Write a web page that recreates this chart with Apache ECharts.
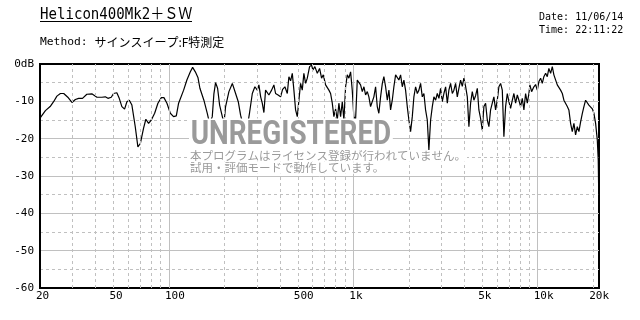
<!DOCTYPE html>
<html>
<head>
<meta charset="utf-8">
<script src="https://cdn.jsdelivr.net/npm/echarts@6/dist/echarts.min.js"></script>
<style>html,body{margin:0;padding:0;background:#fff;}#c{width:640px;height:320px;}</style>
</head>
<body>
<div id="c"></div>
<script>
const titleText = 'Helicon400Mk2＋ＳＷ';
const methodLabel = 'Method: ';
const methodText = 'サインスイープ:F特測定';
const dateText = 'Date: 11/06/14';
const timeText = 'Time: 22:11:22';
const watermarkText = 'UNREGISTERED';
const noticeLine1 = '本プログラムはライセンス登録が行われていません。';
const noticeLine2 = '試用・評価モードで動作しています。';

const freqHz = [
  20, 21.4, 22.7, 23.7, 24.7, 25.8, 26.9, 28.3, 29.8, 31.1, 32.4, 34.0, 35.9, 38.2, 40.7, 43.3, 45.2, 46.7, 48.7, 50.1,
  52.2, 53.8, 55.6, 57.5, 59.2, 61.0, 63.0, 65.7, 67.9, 70.0, 72.9, 75.0, 77.6, 80.3, 83.7, 87.2, 91.0, 94.0, 97.6, 101.8,
  106, 109.7, 112.9, 120.2, 125.2, 130.7, 134.5, 139.1, 143.7, 147.3, 154.8, 161.5, 166.3, 171.9, 175.4, 179.1, 183.7, 188.4, 194.9, 198.8,
  203, 211.6, 220.8, 230, 237.8, 244.8, 254.2, 263.9, 273.9, 283.4, 292.7, 301.6, 307.7, 314.5, 320.9, 327.5, 334.4, 348.6, 360.6, 371,
  378.9, 390.9, 403.4, 413.6, 425.7, 438.6, 447.5, 457.1, 466.9, 476.3, 486.5, 496.9, 507, 517.8, 528.8, 539.5, 551.2, 563, 579.4, 594.1,
  603.8, 619, 637.9, 656.4, 673.1, 687.5, 707.6, 737.4, 753.2, 769.3, 784.9, 801.7, 818.9, 835.4, 853.3, 871.6, 889.2, 908.3, 927.9, 946.5,
  966.9, 987, 1007, 1029, 1051, 1072, 1095, 1119, 1142, 1166, 1191, 1215, 1241, 1268, 1293, 1321, 1349, 1376, 1406, 1437,
  1465, 1497, 1529, 1560, 1593, 1627, 1660, 1696, 1732, 1767, 1805, 1844, 1881, 1921, 1962, 2002, 2045, 2089, 2131, 2177,
  2224, 2269, 2317, 2367, 2415, 2466, 2519, 2570, 2626, 2682, 2736, 2795, 2855, 2913, 2975, 3038, 3100, 3167, 3235, 3299,
  3370, 3443, 3512, 3587, 3664, 3738, 3818, 3900, 3979, 4064, 4152, 4236, 4326, 4419, 4508, 4605, 4704, 4799, 4901, 5007,
  5108, 5218, 5330, 5437, 5553, 5672, 5787, 5911, 6038, 6160, 6292, 6427, 6556, 6698, 6841, 6980, 7129, 7285, 7430, 7589,
  7753, 7907, 8076, 8250, 8418, 8598, 8782, 8960, 9072, 9267, 9537, 9741, 9950, 10150, 10370, 10590, 10800, 11040, 11270, 11500,
  11750, 12000, 12240, 12510, 12770, 13030, 13310, 13600, 13870, 14170, 14470, 14760, 15080, 15400, 15720, 16050, 16400, 16730, 17090, 17460,
  17810, 18190, 18580, 18950, 19360, 19780, 20180, 20610, 21050, 21300, 21450
];
const levelDb = [
  -14.5, -12.5, -11.4, -10.1, -8.6, -7.9, -7.9, -8.9, -10.3, -9.5, -9.2, -9.2, -8.1, -8.0, -8.9, -8.9, -8.8, -9.2, -8.9, -7.9,
  -7.7, -9.2, -11.4, -12.1, -10.1, -9.7, -11.0, -16.8, -22.2, -21.3, -17.2, -14.8, -15.9, -15.0, -13.2, -10.5, -9.0, -9.0, -10.5, -13.2,
  -14.1, -13.9, -10.5, -7.0, -4.3, -2.1, -0.9, -2.1, -3.6, -6.5, -9.7, -13.2, -16.0, -14.1, -8.0, -5.0, -6.5, -11.0, -14.1, -16.0,
  -11.4, -7.4, -5.2, -7.9, -10.1, -13.7, -17.0, -18.0, -13.0, -7.9, -6.1, -7.0, -5.6, -8.8, -10.5, -13.0, -7.0, -8.3, -7.0, -5.6,
  -7.9, -8.3, -8.8, -6.8, -6.1, -7.9, -3.4, -4.5, -2.5, -7.0, -12.3, -14.1, -9.7, -5.2, -7.0, -2.5, -5.2, -3.8, -0.7, -0.3,
  -1.6, -0.7, -2.5, -1.2, -3.8, -2.9, -5.6, -7.0, -7.9, -10.5, -14.1, -12.0, -15.0, -10.5, -14.1, -10.1, -15.0, -6.1, -2.9, -3.8,
  -2.1, -7.0, -14.1, -15.0, -4.3, -3.8, -5.6, -7.4, -6.1, -8.3, -7.4, -8.8, -11.4, -11.9, -8.8, -6.1, -11.4, -13.2, -8.8, -5.2,
  -3.4, -6.1, -9.7, -7.0, -12.3, -9.7, -6.1, -2.9, -2.5, -4.3, -2.9, -6.1, -4.3, -7.0, -11.4, -15.0, -18.1, -14.1, -8.8, -6.1,
  -7.9, -7.0, -5.2, -8.8, -7.9, -12.3, -15.0, -23.0, -15.0, -11.4, -8.8, -9.7, -7.9, -9.2, -6.5, -10.1, -7.9, -6.1, -10.5, -7.0,
  -5.2, -7.9, -7.0, -5.2, -8.8, -6.5, -4.3, -6.0, -3.8, -6.0, -8.8, -16.8, -10.5, -7.4, -9.7, -8.5, -6.5, -12.3, -14.6, -17.7,
  -11.4, -10.5, -15.0, -16.8, -12.3, -10.5, -8.8, -12.3, -9.7, -6.1, -5.2, -7.0, -19.5, -11.4, -7.9, -10.1, -11.9, -9.7, -7.9, -10.5,
  -8.3, -9.7, -11.4, -9.2, -12.3, -7.9, -10.5, -7.9, -5.6, -7.4, -6.1, -5.5, -7.0, -4.7, -3.8, -5.2, -3.4, -2.5, -3.4, -1.2,
  -2.5, -0.7, -2.9, -3.4, -5.6, -5.2, -7.0, -7.9, -9.7, -10.1, -11.4, -12.3, -15.9, -18.1, -15.9, -19.0, -16.8, -18.1, -15.5, -13.2,
  -11.4, -9.7, -10.1, -11.0, -11.4, -12.0, -13.2, -15.9, -20.4, -25.7, -36.5
];

const xTickValues = [20, 50, 100, 500, 1000, 5000, 10000, 20000];
const xTickLabels = ['20', '50', '100', '500', '1k', '5k', '10k', '20k'];
const yTickValues = [0, -10, -20, -30, -40, -50, -60];
const yTickLabels = ['0dB', '-10', '-20', '-30', '-40', '-50', '-60'];
const xMajorGrid = [100, 1000, 10000];
const xMinorGrid = [30, 40, 50, 60, 70, 80, 90, 200, 300, 400, 500, 600, 700, 800, 900,
  2000, 3000, 4000, 5000, 6000, 7000, 8000, 9000, 20000];

function lookup(values, labels, v) {
  for (let i = 0; i < values.length; i++) {
    const ref = values[i];
    if (Math.abs(v - ref) <= Math.max(1e-6, Math.abs(ref) * 1e-6)) return labels[i];
  }
  return '';
}

const gridColor = '#c0c0c0';
const monoFont = '"DejaVu Sans Mono", "Noto Sans CJK JP", monospace';

const chart = echarts.init(document.getElementById('c'), null, {renderer: 'canvas'});
chart.setOption({
  animation: false,
  backgroundColor: '#fff',
  grid: {left: 40, top: 64, right: 41, bottom: 32, show: true, borderColor: '#000', borderWidth: 2, backgroundColor: 'transparent'},
  xAxis: {
    type: 'log', logBase: 10, min: 20, max: 21500,
    axisLine: {show: true, onZero: false, lineStyle: {color: '#000', width: 2}},
    axisTick: {show: false},
    splitLine: {show: false},
    axisLabel: {
      customValues: xTickValues,
      formatter: v => lookup(xTickValues, xTickLabels, v),
      color: '#000', fontFamily: monoFont, fontSize: 11,
      align: 'left', margin: 3, padding: [0, 0, 0, -4]
    }
  },
  yAxis: {
    type: 'value', min: -60, max: 0, interval: 10,
    axisLine: {show: true, onZero: false, lineStyle: {color: '#000', width: 2}},
    axisTick: {show: false},
    axisLabel: {
      formatter: v => lookup(yTickValues, yTickLabels, v),
      color: '#000', fontFamily: monoFont, fontSize: 11, margin: 6
    },
    splitLine: {show: true, showMinLine: false, showMaxLine: false, lineStyle: {color: gridColor, width: 1}},
    minorTick: {show: false, splitNumber: 2},
    minorSplitLine: {show: true, lineStyle: {color: gridColor, width: 1, type: [3, 3]}}
  },
  series: [
    {
      type: 'line', data: [], z: 1, silent: true,
      markLine: {
        silent: true, symbol: 'none', animation: false, label: {show: false},
        emphasis: {disabled: true},
        data: xMinorGrid.map(v => ({xAxis: v, lineStyle: {type: [3, 3], color: gridColor, width: 1}}))
          .concat(xMajorGrid.map(v => ({xAxis: v, lineStyle: {type: 'solid', color: gridColor, width: 1}})))
      }
    },
    {
      type: 'line', z: 3, silent: true,
      data: freqHz.map((f, i) => [f, levelDb[i]]),
      showSymbol: false, symbol: 'none',
      lineStyle: {color: '#000', width: 1.2}
    }
  ],
  graphic: [
    {type: 'text', x: 40, y: 14.5, scaleX: 0.88, z: 100,
     style: {text: titleText, fontFamily: monoFont, fontSize: 16, fill: '#000', verticalAlign: 'middle', align: 'left'}},
    {type: 'line', z: 100, shape: {x1: 40, y1: 21.5, x2: 192, y2: 21.5}, style: {stroke: '#000', lineWidth: 1}},
    {type: 'text', x: 40, y: 42, z: 100,
     style: {text: '{m|' + methodLabel + '}{j|' + methodText + '}', verticalAlign: 'middle', align: 'left', fill: '#000',
       rich: {m: {fontFamily: monoFont, fontSize: 11.3, fill: '#000'}, j: {fontFamily: '"Noto Sans CJK JP"', fontSize: 12, fill: '#000'}}}},
    {type: 'text', x: 539, y: 16.7, scaleX: 0.91, z: 100,
     style: {text: dateText, fontFamily: monoFont, fontSize: 11, fill: '#000', verticalAlign: 'middle', align: 'left'}},
    {type: 'text', x: 539, y: 29.7, scaleX: 0.91, z: 100,
     style: {text: timeText, fontFamily: monoFont, fontSize: 11, fill: '#000', verticalAlign: 'middle', align: 'left'}},
    {type: 'text', x: 189, y: 135.5, scaleX: 0.82, z: 100,
     style: {text: watermarkText, fontFamily: 'Roboto', fontWeight: 'bold', fontSize: 34, fill: '#9a9a9a',
       backgroundColor: '#fff', padding: [0, 2, 0, 2], verticalAlign: 'middle', align: 'left'}},
    {type: 'text', x: 189, y: 156, z: 100,
     style: {text: noticeLine1, fontFamily: '"Noto Sans CJK JP"', fontSize: 11.5, fill: '#9a9a9a',
       backgroundColor: '#fff', padding: [0, 1, 0, 1], verticalAlign: 'middle', align: 'left'}},
    {type: 'text', x: 189, y: 168, z: 100,
     style: {text: noticeLine2, fontFamily: '"Noto Sans CJK JP"', fontSize: 11.5, fill: '#9a9a9a',
       backgroundColor: '#fff', padding: [0, 1, 0, 1], verticalAlign: 'middle', align: 'left'}}
  ]
});
</script>
</body>
</html>
